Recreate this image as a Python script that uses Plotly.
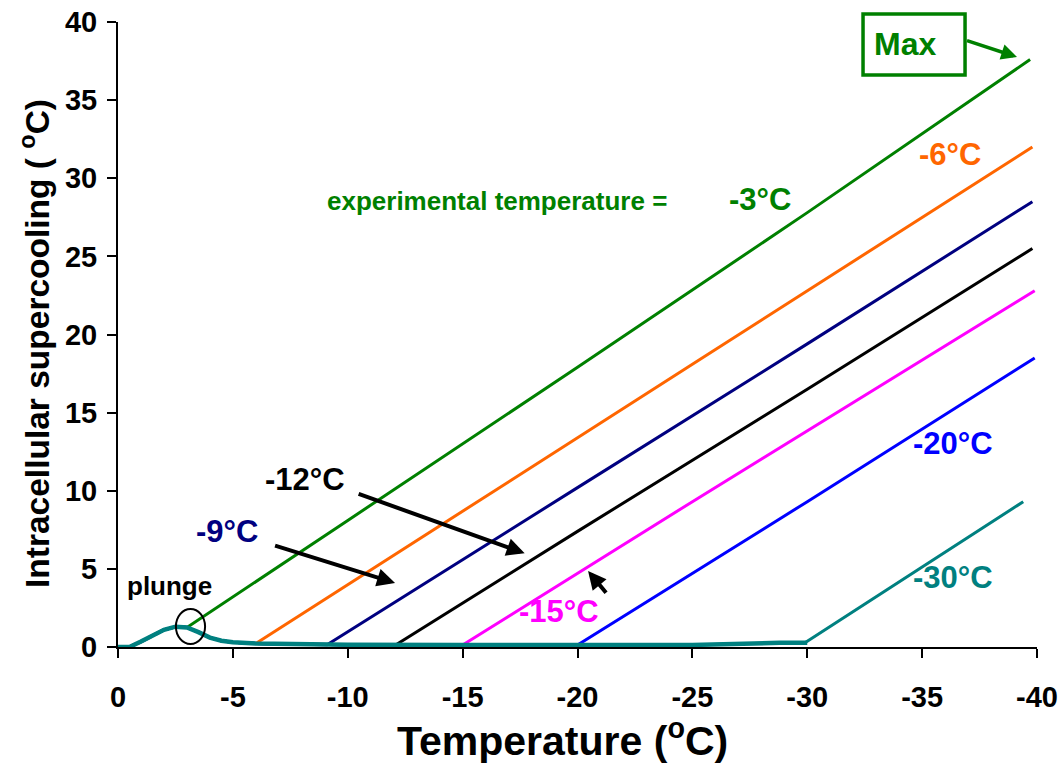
import plotly.graph_objects as go

# Shared cooling trace: plunge bump near 0 °C, then a near-zero plateau
plunge_t = [0.0, -0.5, -1.0, -1.5, -2.0, -2.5, -3.0, -3.5, -4.0, -4.5, -5.0,
            -6.0, -8.0, -10.0, -15.0, -20.0, -25.0, -28.8, -30.0]
plunge_v = [0.0, 0.0, 0.35, 0.75, 1.1, 1.3, 1.25, 0.95, 0.6, 0.4, 0.3,
            0.22, 0.18, 0.15, 0.13, 0.13, 0.13, 0.27, 0.27]

# Supercooling rise after reaching each experimental temperature
exp_temps = [-3, -6, -9, -12, -15, -20, -30]
rise_t = {
    -3: [-3.0, -10.0, -20.0, -30.0, -39.7],
    -6: [-6.0, -15.0, -25.0, -39.8],
    -9: [-9.1, -20.0, -30.0, -39.8],
    -12: [-12.1, -20.0, -30.0, -39.8],
    -15: [-15.0, -25.0, -39.9],
    -20: [-20.0, -30.0, -39.9],
    -30: [-29.9, -39.4],
}
rise_v = {
    -3: [1.25, 8.1, 17.9, 27.8, 37.6],
    -6: [0.22, 8.7, 18.1, 32.0],
    -9: [0.15, 10.2, 19.4, 28.5],
    -12: [0.15, 7.4, 16.5, 25.5],
    -15: [0.13, 9.3, 22.8],
    -20: [0.13, 9.3, 18.5],
    -30: [0.27, 9.3],
}
colors = {
    -3: "#008000", -6: "#FF6600", -9: "#000080", -12: "#000000",
    -15: "#FF00FF", -20: "#0000FF", -30: "#008080",
}

FONT = "Liberation Sans, Arial, sans-serif"

fig = go.Figure()
for T in exp_temps:
    xs = [t for t in plunge_t if t > rise_t[T][0]] + rise_t[T]
    ys = [v for t, v in zip(plunge_t, plunge_v) if t > rise_t[T][0]] + rise_v[T]
    fig.add_trace(go.Scatter(
        x=xs, y=ys, mode="lines",
        line=dict(color=colors[T], width=3),
        showlegend=False, hoverinfo="skip",
    ))

# Common plunge/plateau segment, drawn thick on top of all series
fig.add_trace(go.Scatter(
    x=plunge_t, y=plunge_v, mode="lines",
    line=dict(color=colors[-30], width=4.5),
    showlegend=False, hoverinfo="skip",
))

# Series labels
labels = [
    ("-3°C", -27.94, 28.67, -3),
    ("-6°C", -36.21, 31.5, -6),
    ("-9°C", -4.74, 7.4, -9),
    ("-12°C", -8.14, 10.69, -12),
    ("-15°C", -19.2, 2.3, -15),
    ("-20°C", -36.34, 13.05, -20),
    ("-30°C", -36.34, 4.48, -30),
]
annotations = []
for text, x, y, T in labels:
    annotations.append(dict(
        x=x, y=y, text=text, showarrow=False,
        font=dict(family=FONT, size=31, color=colors[T], weight="bold"),
    ))

annotations += [
    dict(x=-16.5, y=28.54, text="experimental temperature =", showarrow=False,
         font=dict(family=FONT, size=26, color="#008000", weight="bold")),
    dict(x=-2.26, y=3.9, text="plunge", showarrow=False,
         font=dict(family=FONT, size=26, color="#000000", weight="bold")),
    dict(x=-34.25, y=38.6, text="Max", showarrow=False,
         font=dict(family=FONT, size=32, color="#008000", weight="bold")),
    # axis titles
    dict(x=0.484, y=-0.1456, xref="paper", yref="paper", showarrow=False,
         text="Temperature (<sup>o</sup>C)", xanchor="center", yanchor="middle",
         font=dict(family=FONT, size=41, color="black", weight="bold")),
    dict(x=-0.0903, y=0.4848, xref="paper", yref="paper", showarrow=False,
         text="Intracellular supercooling ( <sup>o</sup>C)", textangle=-90,
         xanchor="center", yanchor="middle",
         font=dict(family=FONT, size=33.5, color="black", weight="bold")),
]

# Pointer arrows (head at the data point, tail offset in pixels)
arrows = [
    (-17.7, 6.0, -168, -60, "#000000", 4.0),
    (-12.06, 4.1, -122, -38, "#000000", 4.0),
    (-20.46, 4.86, 20, 24, "#000000", 4.0),
    (-39.13, 37.76, -52, -17, "#008000", 3.5),
]
for x, y, ax, ay, c, w in arrows:
    annotations.append(dict(
        x=x, y=y, ax=ax, ay=ay, text=" ", showarrow=True,
        arrowhead=2, arrowsize=0.9, arrowwidth=w, arrowcolor=c,
        font=dict(size=2),
    ))

shapes = [
    # box around "Max"
    dict(type="rect", xref="paper", yref="paper",
         x0=0.8107, x1=0.9217, y0=0.9152, y1=1.0128,
         line=dict(color="#008000", width=3.5), fillcolor="rgba(0,0,0,0)"),
    # ellipse marking the plunge point
    dict(type="circle", xref="x", yref="y",
         x0=-2.52, x1=-3.79, y0=0.19, y1=2.43,
         line=dict(color="#000000", width=2)),
]

fig.update_layout(
    width=1063, height=763,
    margin=dict(l=118, r=26, t=22, b=116),
    plot_bgcolor="white", paper_bgcolor="white",
    font=dict(family=FONT, color="black"),
    annotations=annotations, shapes=shapes,
    xaxis=dict(
        range=[0, -40], tickvals=[0, -5, -10, -15, -20, -25, -30, -35, -40],
        ticktext=["0", "-5", "-10", "-15", "-20", "-25", "-30", "-35", "-40"],
        showline=True, linecolor="black", linewidth=2, automargin=False,
        ticks="outside", ticklen=9, tickwidth=2, tickcolor="black",
        showgrid=False, zeroline=False, ticklabelstandoff=14,
        tickfont=dict(family=FONT, size=29, weight="bold"),
    ),
    yaxis=dict(
        range=[0, 40], tickvals=[0, 5, 10, 15, 20, 25, 30, 35, 40],
        showline=True, linecolor="black", linewidth=2, automargin=False,
        ticks="outside", ticklen=9, tickwidth=2, tickcolor="black",
        showgrid=False, zeroline=False, ticklabelstandoff=4,
        tickfont=dict(family=FONT, size=29, weight="bold"),
    ),
)

fig.write_html("out.html")
